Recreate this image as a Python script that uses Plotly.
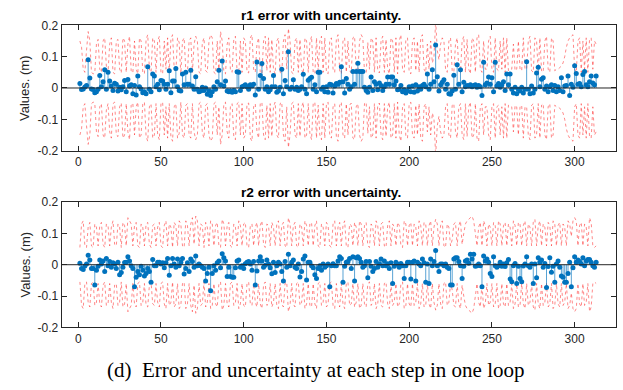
import plotly.graph_objects as go

r1_err = [
    0.014, -0.005, -0.003, 0.003, 0.008, 0.090, 0.032, -0.003, -0.005, -0.015,
    -0.012, -0.004, 0.040, 0.004, 0.020, 0.058, -0.004, 0.050, 0.022, 0.006,
    -0.008, 0.015, 0.012, -0.010, 0.002, -0.006, 0.004, 0.024, -0.012, 0.027,
    0.006, 0.010, -0.018, 0.008, -0.022, 0.038, 0.004, -0.003, -0.015, -0.013,
    -0.018, 0.068, -0.004, -0.012, 0.045, 0.038, 0.004, 0.012, -0.006, 0.024,
    0.022, 0.012, -0.004, 0.012, 0.055, -0.015, 0.022, 0.022, 0.062, 0.004,
    -0.008, -0.010, 0.045, 0.010, 0.050, 0.012, 0.012, 0.057, 0.006, -0.004,
    0.036, -0.004, -0.012, -0.010, 0.002, -0.008, 0.000, -0.020, -0.010, -0.024,
    -0.012, 0.004, -0.004, 0.020, 0.057, 0.010, 0.086, 0.006, 0.022, -0.010,
    -0.012, -0.010, -0.014, -0.008, -0.012, 0.052, 0.050, -0.008, 0.004, 0.006,
    0.010, 0.004, -0.004, 0.010, 0.006, 0.012, -0.022, 0.083, -0.004, 0.040,
    0.078, 0.030, -0.004, 0.004, -0.012, -0.006, 0.004, 0.040, 0.004, -0.014,
    -0.010, 0.002, 0.060, -0.018, 0.024, 0.004, 0.116, -0.004, 0.002, 0.026,
    -0.004, 0.002, -0.008, -0.004, 0.004, 0.044, -0.004, -0.018, 0.025, 0.030,
    0.034, -0.004, 0.010, -0.012, 0.050, 0.050, -0.004, 0.002, -0.012, 0.004,
    -0.014, 0.012, 0.010, -0.016, 0.006, 0.014, 0.012, 0.018, 0.068, 0.020,
    -0.016, 0.030, 0.012, -0.004, 0.004, 0.053, 0.012, 0.053, 0.079, 0.053,
    0.053, 0.053, 0.002, -0.008, -0.014, 0.002, 0.035, -0.008, 0.020, 0.012,
    -0.006, 0.016, 0.008, -0.008, 0.004, 0.012, 0.035, 0.012, 0.035, 0.035,
    0.010, 0.022, -0.006, -0.004, 0.008, -0.012, -0.006, -0.016, -0.010, 0.004,
    -0.012, 0.006, -0.014, 0.010, -0.010, 0.004, -0.004, 0.008, 0.012, 0.004,
    0.045, -0.004, 0.012, 0.058, 0.020, 0.137, 0.036, -0.010, 0.010, 0.018,
    0.026, -0.004, 0.012, -0.018, -0.020, -0.010, 0.041, -0.004, 0.074, 0.012,
    0.058, -0.012, 0.018, 0.004, 0.008, 0.006, 0.010, 0.004, 0.008, 0.010,
    0.002, 0.008, 0.004, -0.024, 0.082, 0.010, 0.016, 0.035, 0.012, 0.033,
    -0.012, 0.082, 0.006, 0.014, 0.002, 0.010, 0.020, -0.008, 0.045, 0.010,
    0.045, -0.004, -0.016, 0.002, -0.018, -0.004, -0.010, 0.002, -0.016, -0.004,
    0.084, -0.004, -0.018, 0.006, -0.016, -0.004, 0.048, 0.066, 0.004, 0.028,
    0.033, -0.004, 0.006, -0.012, 0.004, 0.010, -0.008, 0.008, -0.012, 0.004,
    -0.008, 0.033, -0.012, 0.006, 0.008, 0.038, -0.024, 0.012, 0.002, 0.071,
    0.046, 0.012, 0.014, 0.004, 0.043, 0.053, 0.010, 0.004, 0.020, 0.038,
    0.016, 0.010, 0.038,
]

r1_sigma = [
    0.150, 0.130, 0.060, 0.050, 0.120, 0.180, 0.150, 0.050, 0.045, 0.048,
    0.140, 0.155, 0.060, 0.050, 0.150, 0.160, 0.070, 0.050, 0.140, 0.160,
    0.050, 0.045, 0.150, 0.155, 0.060, 0.048, 0.160, 0.150, 0.050, 0.140,
    0.165, 0.055, 0.048, 0.150, 0.060, 0.045, 0.160, 0.150, 0.050, 0.045,
    0.155, 0.170, 0.060, 0.050, 0.160, 0.150, 0.050, 0.150, 0.165, 0.050,
    0.045, 0.150, 0.060, 0.160, 0.050, 0.155, 0.170, 0.060, 0.050, 0.160,
    0.145, 0.045, 0.150, 0.160, 0.055, 0.050, 0.150, 0.160, 0.050, 0.140,
    0.165, 0.150, 0.050, 0.045, 0.145, 0.160, 0.055, 0.050, 0.150, 0.170,
    0.160, 0.050, 0.045, 0.150, 0.060, 0.180, 0.150, 0.050, 0.045, 0.140,
    0.160, 0.055, 0.050, 0.155, 0.165, 0.050, 0.045, 0.150, 0.050, 0.160,
    0.150, 0.050, 0.048, 0.160, 0.170, 0.060, 0.050, 0.140, 0.160, 0.050,
    0.045, 0.150, 0.165, 0.055, 0.160, 0.050, 0.155, 0.060, 0.045, 0.150,
    0.160, 0.050, 0.045, 0.150, 0.170, 0.060, 0.190, 0.150, 0.050, 0.045,
    0.150, 0.160, 0.050, 0.155, 0.060, 0.045, 0.160, 0.150, 0.050, 0.145,
    0.165, 0.050, 0.045, 0.160, 0.055, 0.150, 0.165, 0.050, 0.160, 0.050,
    0.045, 0.150, 0.160, 0.060, 0.050, 0.155, 0.170, 0.055, 0.045, 0.150,
    0.160, 0.050, 0.150, 0.055, 0.048, 0.160, 0.165, 0.060, 0.050, 0.150,
    0.170, 0.160, 0.050, 0.045, 0.145, 0.060, 0.160, 0.150, 0.050, 0.160,
    0.055, 0.048, 0.150, 0.165, 0.050, 0.155, 0.060, 0.045, 0.160, 0.150,
    0.050, 0.160, 0.045, 0.150, 0.170, 0.060, 0.050, 0.155, 0.160, 0.050,
    0.045, 0.150, 0.160, 0.055, 0.150, 0.050, 0.160, 0.170, 0.060, 0.050,
    0.140, 0.060, 0.150, 0.080, 0.100, 0.215, 0.120, 0.090, 0.140, 0.160,
    0.150, 0.060, 0.050, 0.150, 0.160, 0.055, 0.050, 0.140, 0.160, 0.060,
    0.050, 0.150, 0.165, 0.050, 0.155, 0.060, 0.045, 0.160, 0.150, 0.050,
    0.160, 0.170, 0.060, 0.050, 0.150, 0.060, 0.060, 0.150, 0.165, 0.060,
    0.050, 0.160, 0.060, 0.055, 0.150, 0.060, 0.160, 0.050, 0.160, 0.055,
    0.060, 0.060, 0.140, 0.055, 0.060, 0.150, 0.060, 0.055, 0.160, 0.060,
    0.060, 0.150, 0.165, 0.055, 0.050, 0.160, 0.150, 0.050, 0.160, 0.055,
    0.050, 0.150, 0.165, 0.060, 0.050, 0.160, 0.150, 0.055, 0.060, 0.060,
    0.065, 0.070, 0.080, 0.100, 0.130, 0.150, 0.160, 0.165, 0.170, 0.060,
    0.050, 0.150, 0.160, 0.050, 0.150, 0.060, 0.160, 0.050, 0.155, 0.160,
    0.060, 0.150, 0.140,
]

r2_err = [
    0.005, -0.012, -0.015, -0.004, 0.002, 0.030, 0.015, -0.012, -0.012, -0.065,
    -0.018, -0.005, 0.015, 0.002, 0.012, -0.022, 0.020, -0.003, 0.010, -0.008,
    0.006, 0.002, -0.012, 0.008, -0.032, -0.025, -0.008, 0.007, 0.008, 0.025,
    0.012, -0.003, -0.012, -0.070, -0.040, -0.022, -0.032, -0.005, -0.018, -0.036,
    -0.028, -0.012, -0.022, -0.056, 0.017, -0.003, -0.003, 0.008, 0.008, 0.002,
    0.006, -0.010, 0.006, 0.020, -0.034, -0.003, 0.020, 0.002, -0.008, 0.018,
    -0.003, 0.008, 0.020, -0.030, -0.012, 0.006, -0.022, 0.018, 0.010, -0.008,
    0.028, -0.003, 0.002, -0.003, -0.008, -0.012, -0.052, -0.028, -0.008, -0.083,
    -0.028, -0.003, -0.018, 0.006, 0.012, -0.010, 0.035, 0.022, 0.012, -0.038,
    -0.008, -0.038, -0.040, -0.040, -0.010, 0.012, 0.015, -0.008, -0.003, -0.012,
    0.003, 0.008, 0.010, 0.002, -0.018, 0.010, -0.065, -0.020, 0.012, 0.025,
    0.012, -0.008, -0.002, 0.015, 0.002, -0.010, -0.029, 0.008, -0.025, -0.003,
    0.008, 0.002, -0.022, -0.052, 0.010, -0.008, 0.033, -0.003, 0.008, 0.015,
    -0.008, -0.012, 0.002, -0.039, -0.022, 0.018, 0.028, -0.049, 0.008, 0.008,
    -0.003, -0.010, -0.032, -0.044, -0.012, -0.003, -0.018, 0.002, -0.008, -0.003,
    0.002, -0.070, -0.003, 0.003, -0.003, -0.003, 0.012, 0.025, 0.020, -0.056,
    -0.005, 0.008, 0.010, 0.020, -0.012, 0.025, -0.052, 0.022, 0.025, 0.020,
    0.008, -0.008, -0.003, 0.010, -0.042, 0.010, -0.005, -0.022, -0.012, 0.010,
    -0.008, 0.003, 0.018, -0.003, 0.012, -0.003, 0.003, -0.012, 0.006, -0.060,
    -0.005, 0.008, 0.002, -0.008, 0.004, -0.003, -0.044, -0.003, 0.008, 0.008,
    -0.046, 0.008, 0.012, -0.052, 0.008, 0.002, -0.003, 0.018, 0.006, -0.056,
    0.002, -0.060, 0.018, -0.003, 0.010, 0.045, -0.003, -0.022, 0.002, 0.002,
    -0.003, 0.002, -0.008, -0.012, -0.065, -0.065, 0.018, 0.022, 0.022, 0.010,
    -0.003, -0.044, -0.005, 0.012, 0.015, 0.005, 0.033, 0.018, 0.033, -0.005,
    -0.003, 0.002, -0.003, -0.070, 0.028, 0.012, 0.018, 0.008, -0.028, -0.038,
    0.025, -0.003, -0.008, -0.003, 0.008, -0.005, 0.002, -0.006, 0.006, 0.017,
    -0.046, -0.054, -0.003, 0.004, -0.060, -0.005, -0.044, -0.054, -0.004, 0.002,
    0.025, -0.003, -0.008, 0.002, -0.060, 0.002, -0.042, 0.022, 0.008, 0.015,
    -0.008, 0.004, -0.073, -0.006, 0.022, -0.024, -0.005, -0.056, 0.002, 0.012,
    -0.008, -0.036, -0.040, -0.056, -0.056, -0.028, 0.008, -0.070, -0.010, 0.025,
    0.008, 0.015, 0.010, 0.002, 0.022, -0.003, 0.012, 0.017, 0.017, 0.008,
    -0.003, -0.008, 0.008,
]

r2_sigma = [
    0.055, 0.130, 0.140, 0.060, 0.055, 0.120, 0.135, 0.060, 0.055, 0.130,
    0.120, 0.060, 0.125, 0.135, 0.065, 0.055, 0.130, 0.125, 0.060, 0.120,
    0.140, 0.065, 0.060, 0.130, 0.120, 0.055, 0.135, 0.125, 0.060, 0.150,
    0.140, 0.130, 0.060, 0.125, 0.135, 0.060, 0.055, 0.130, 0.120, 0.060,
    0.130, 0.135, 0.065, 0.055, 0.125, 0.130, 0.060, 0.120, 0.135, 0.060,
    0.055, 0.125, 0.140, 0.060, 0.130, 0.120, 0.055, 0.135, 0.125, 0.060,
    0.140, 0.130, 0.060, 0.055, 0.140, 0.125, 0.060, 0.130, 0.150, 0.065,
    0.155, 0.140, 0.060, 0.130, 0.125, 0.055, 0.135, 0.120, 0.060, 0.140,
    0.130, 0.060, 0.125, 0.135, 0.060, 0.055, 0.145, 0.130, 0.060, 0.125,
    0.135, 0.060, 0.055, 0.130, 0.120, 0.060, 0.140, 0.125, 0.060, 0.130,
    0.135, 0.060, 0.055, 0.125, 0.130, 0.060, 0.120, 0.135, 0.060, 0.125,
    0.140, 0.065, 0.055, 0.130, 0.125, 0.060, 0.135, 0.120, 0.060, 0.130,
    0.140, 0.060, 0.125, 0.135, 0.060, 0.055, 0.150, 0.130, 0.060, 0.125,
    0.135, 0.060, 0.055, 0.130, 0.120, 0.060, 0.140, 0.125, 0.060, 0.130,
    0.135, 0.060, 0.125, 0.140, 0.060, 0.055, 0.130, 0.120, 0.060, 0.135,
    0.125, 0.060, 0.055, 0.130, 0.140, 0.060, 0.120, 0.135, 0.060, 0.125,
    0.140, 0.060, 0.055, 0.130, 0.125, 0.060, 0.135, 0.120, 0.060, 0.140,
    0.130, 0.060, 0.125, 0.135, 0.060, 0.055, 0.130, 0.120, 0.060, 0.140,
    0.125, 0.060, 0.130, 0.135, 0.060, 0.055, 0.125, 0.140, 0.060, 0.130,
    0.120, 0.060, 0.135, 0.125, 0.060, 0.055, 0.140, 0.130, 0.060, 0.125,
    0.135, 0.060, 0.130, 0.120, 0.060, 0.140, 0.125, 0.060, 0.135, 0.130,
    0.060, 0.125, 0.140, 0.060, 0.120, 0.145, 0.130, 0.060, 0.125, 0.140,
    0.060, 0.055, 0.130, 0.120, 0.060, 0.080, 0.130, 0.135, 0.060, 0.125,
    0.140, 0.065, 0.100, 0.130, 0.140, 0.145, 0.150, 0.155, 0.140, 0.100,
    0.060, 0.120, 0.135, 0.060, 0.140, 0.125, 0.060, 0.130, 0.120, 0.060,
    0.135, 0.125, 0.060, 0.140, 0.130, 0.060, 0.125, 0.135, 0.060, 0.130,
    0.120, 0.060, 0.140, 0.125, 0.060, 0.135, 0.130, 0.060, 0.125, 0.140,
    0.060, 0.130, 0.120, 0.060, 0.135, 0.145, 0.060, 0.125, 0.140, 0.060,
    0.130, 0.120, 0.060, 0.135, 0.125, 0.060, 0.140, 0.130, 0.060, 0.125,
    0.135, 0.060, 0.130, 0.120, 0.060, 0.140, 0.130, 0.090, 0.140, 0.150,
    0.140, 0.060, 0.125, 0.135, 0.060, 0.130, 0.120, 0.060, 0.150, 0.135,
    0.060, 0.055, 0.060,
]

x_ticks = [0, 50, 100, 150, 200, 250, 300]
y_ticks = [-0.2, -0.1, 0, 0.1, 0.2]
y_tick_text = ["-0.2", "-0.1", "0", "0.1", "0.2"]
titles = ["r1 error with uncertainty.", "r2 error with uncertainty."]
y_label = "Values. (m)"
caption = "(d)  Error and uncertainty at each step in one loop"

BLUE = "#0072BD"
RED = "rgba(255,40,40,0.55)"
AX = "#262626"

fig = go.Figure()

panels = [(r1_err, r1_sigma, "x", "y"), (r2_err, r2_sigma, "x2", "y2")]
for err, sig, xa, ya in panels:
    steps = list(range(1, len(err) + 1))
    ssteps = list(range(1, len(sig) + 1))
    fig.add_trace(go.Scatter(x=ssteps, y=sig, mode="lines", xaxis=xa, yaxis=ya,
                             line=dict(color=RED, width=1, dash="dot"), showlegend=False))
    fig.add_trace(go.Scatter(x=ssteps, y=[-s for s in sig], mode="lines", xaxis=xa, yaxis=ya,
                             line=dict(color=RED, width=1, dash="dot"), showlegend=False))
    sx, sy = [], []
    for xi, v in zip(steps, err):
        sx += [xi, xi, None]
        sy += [0, v, None]
    fig.add_trace(go.Scatter(x=sx, y=sy, mode="lines", xaxis=xa, yaxis=ya,
                             line=dict(color="rgba(0,114,189,0.65)", width=1), showlegend=False))
    fig.add_trace(go.Scatter(x=steps, y=err, mode="markers", xaxis=xa, yaxis=ya,
                             marker=dict(color=BLUE, size=5, line=dict(width=0)), showlegend=False))
    fig.add_shape(type="line", xref=f"{xa} domain", yref=ya, x0=0, x1=1, y0=0, y1=0,
                  line=dict(color=AX, width=1))

xdom = [61.7 / 623, 616 / 623]
axis_common = dict(showline=True, linecolor=AX, linewidth=1, mirror="ticks", ticks="inside",
                   ticklen=5, tickcolor=AX, showgrid=False, zeroline=False,
                   tickfont=dict(family="Liberation Sans, Arial", size=12, color=AX))

fig.update_layout(
    width=623, height=390, margin=dict(l=0, r=0, t=0, b=0),
    paper_bgcolor="white", plot_bgcolor="white",
    xaxis=dict(domain=xdom, range=[-10, 325], tickvals=x_ticks, anchor="y", **axis_common),
    yaxis=dict(domain=[241 / 390, 371 / 390], range=[-0.2, 0.2], tickvals=y_ticks,
               ticktext=y_tick_text, anchor="x", **axis_common),
    xaxis2=dict(domain=xdom, range=[-10, 325], tickvals=x_ticks, anchor="y2", **axis_common),
    yaxis2=dict(domain=[57.7 / 390, 187.7 / 390], range=[-0.2, 0.2], tickvals=y_ticks,
                ticktext=y_tick_text, anchor="x2", **axis_common),
)

ann = []
for title, yc in zip(titles, [9, 192]):
    ann.append(dict(text=f"<b>{title}</b>", x=321 / 623, y=(390 - yc) / 390, xref="paper", yref="paper",
                    xanchor="center", yanchor="middle", showarrow=False,
                    font=dict(family="Liberation Sans, Arial", size=13.7, color="black")))
for yc in [84, 267]:
    ann.append(dict(text=y_label, x=25 / 623, y=(390 - yc) / 390, xref="paper", yref="paper",
                    xanchor="center", yanchor="middle", showarrow=False, textangle=-90,
                    font=dict(family="Liberation Sans, Arial", size=13, color=AX)))
ann.append(dict(text=caption, x=316 / 623, y=(390 - 376) / 390, xref="paper", yref="paper",
                xanchor="center", yanchor="middle", showarrow=False,
                font=dict(family="Liberation Serif, Times New Roman", size=21, color="black")))
fig.update_layout(annotations=ann)

fig.write_html("out.html")
